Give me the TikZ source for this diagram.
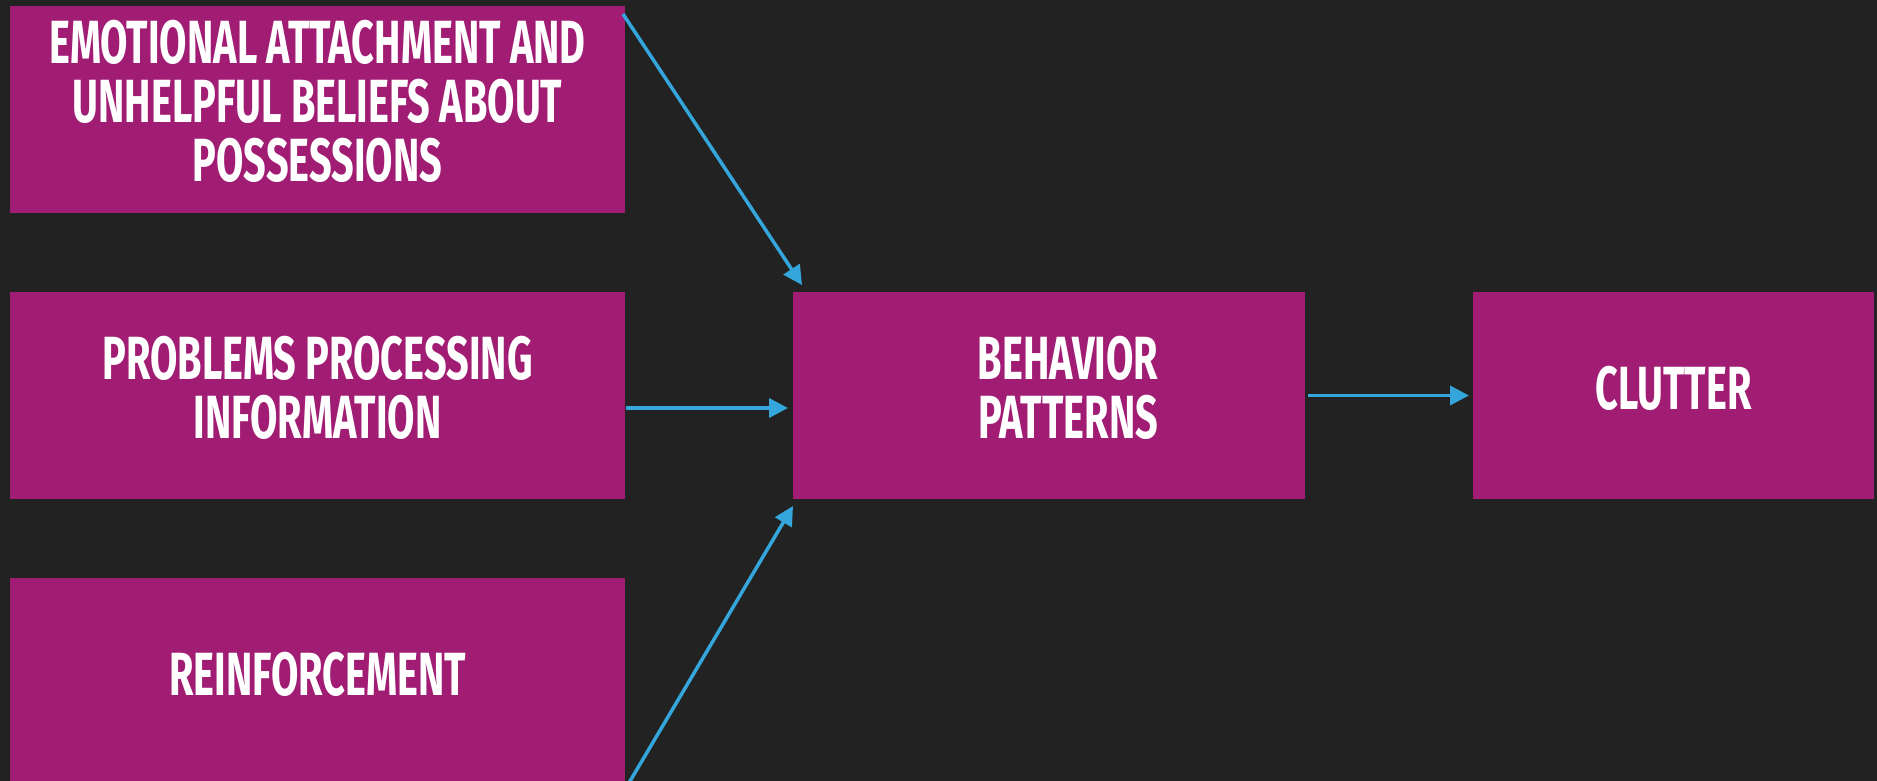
\documentclass[tikz,border=0pt]{standalone}
\usepackage{fontspec}
\newfontfamily\dinfont{Fira Sans}[FakeStretch=0.65]
\usetikzlibrary{arrows.meta,calc}
\definecolor{bg}{RGB}{34,34,34}
\definecolor{mag}{RGB}{161,29,115}
\definecolor{arr}{RGB}{52,166,219}
\begin{document}
\begin{tikzpicture}[x=1pt,y=-1pt,
  boxnode/.style={fill=mag,draw=none,inner sep=0pt,outer sep=0pt,anchor=north west,
    minimum height=207pt},
  txt/.style={text=white,font={\dinfont\bfseries\fontsize{61}{59}\selectfont},
    align=center,inner sep=0pt,outer sep=0pt},
  conn/.style={draw=arr,line width=3.5pt,-{Triangle[length=19pt,width=19pt]}}]
\fill[bg] (0,0) rectangle (1877,781);
\useasboundingbox (0,0) rectangle (1877,781);
% boxes
\node[boxnode,minimum width=615pt] (b1) at (10,6) {};
\node[boxnode,minimum width=615pt] (b2) at (10,292) {};
\node[boxnode,minimum width=615pt] (b3) at (10,578) {};
\node[boxnode,minimum width=512pt] (b4) at (793,292) {};
\node[boxnode,minimum width=401pt] (b5) at (1473,292) {};
% texts
\node[txt] (t1) at ($(b1.center)+(0,-8.5)$) {EMOTIONAL ATTACHMENT AND\\UNHELPFUL BELIEFS ABOUT\\POSSESSIONS};
\node[txt] (t2) at ($(b2.center)+(0,-7.5)$) {PROBLEMS PROCESSING\\INFORMATION};
\node[txt] (t3) at ($(b3.center)+(0,-7.5)$) {REINFORCEMENT};
\node[txt] (t4) at ($(b4.center)+(19,-7.5)$) {BEHAVIOR\\PATTERNS};
\node[txt] (t5) at ($(b5.center)+(0,-7.5)$) {CLUTTER};
% connector ends
\coordinate (s1) at ($(b1.north east)+(-2,8)$);
\coordinate (e1) at ($(b4.north west)+(9,-7)$);
\coordinate (s2) at ($(b2.east)+(1,12.5)$);
\coordinate (e2) at ($(b4.west)+(-5,12.5)$);
\coordinate (s3) at (618.8,800);
\coordinate (e3) at ($(b4.south west)+(0,7)$);
\coordinate (s4) at ($(b4.east)+(3,0)$);
\coordinate (e4) at ($(b5.west)+(-4,0)$);
\draw[conn] (s1) -- (e1);
\draw[conn] (s2) -- (e2);
\draw[conn] (s3) -- (e3);
\draw[conn] (s4) -- (e4);
\end{tikzpicture}
\end{document}
